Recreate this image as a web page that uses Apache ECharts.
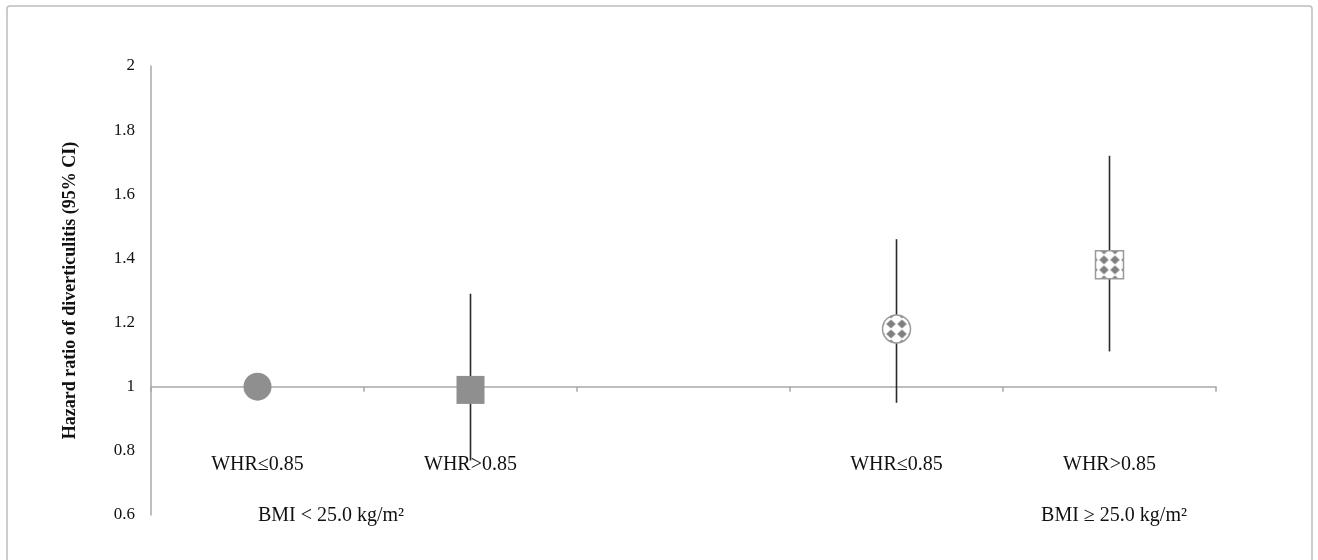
<!DOCTYPE html>
<html>
<head>
<meta charset="utf-8">
<script src="https://cdn.jsdelivr.net/npm/echarts@6/dist/echarts.min.js"></script>
<style>
html,body{margin:0;padding:0;background:#fff;}
#chart{width:1318px;height:560px;}
</style>
</head>
<body>
<div id="chart"></div>
<script>
// ---- data ----
const categories = ['WHR\u22640.85', 'WHR>0.85', '', 'WHR\u22640.85', 'WHR>0.85'];
const hazardRatio = [1.00, 0.99, null, 1.18, 1.38];
const ciLower = [null, 0.77, null, 0.95, 1.11];
const ciUpper = [null, 1.29, null, 1.46, 1.72];
const groupLabels = ['BMI < 25.0 kg/m\u00b2', 'BMI \u2265 25.0 kg/m\u00b2'];
const yMin = 0.6, yMax = 2, yInterval = 0.2, xCross = 1;
const yTitle = 'Hazard ratio of diverticulitis (95% CI)';

// ---- styles (not data) ----
const markerStyles = ['solidCircle', 'solidSquare', null, 'patternCircle', 'patternSquare'];

const FONT = '"Liberation Serif", "Times New Roman", serif';
const grid = { left: 151, right: 102, top: 66, bottom: 45 };
const gridH = 560 - grid.top - grid.bottom;
const axisOffset = -gridH * (xCross - yMin) / (yMax - yMin);

// diamond pattern tile
const tile = document.createElement('canvas');
tile.width = 11; tile.height = 10;
(function () {
  const c = tile.getContext('2d');
  c.fillStyle = '#ffffff'; c.fillRect(0, 0, 11, 10);
  c.fillStyle = '#808080';
  c.beginPath();
  c.moveTo(5.5, 0.6); c.lineTo(10.2, 5); c.lineTo(5.5, 9.4); c.lineTo(0.8, 5); c.closePath();
  c.fill();
})();
const pattern = { image: tile, repeat: 'repeat' };

const errData = [];
const markData = [];
categories.forEach((c, i) => {
  if (ciLower[i] != null && ciUpper[i] != null) errData.push([i, ciLower[i], ciUpper[i]]);
  if (hazardRatio[i] != null) markData.push([i, hazardRatio[i]]);
});

const chart = echarts.init(document.getElementById('chart'), null, { renderer: 'canvas' });
chart.setOption({
  animation: false,
  backgroundColor: '#fff',
  grid: grid,
  xAxis: {
    type: 'category',
    data: categories,
    boundaryGap: true,
    position: 'bottom',
    offset: axisOffset,
    axisLine: { show: true, lineStyle: { color: '#a8a8a8', width: 1.5 } },
    axisTick: { show: true, length: 5, lineStyle: { color: '#a8a8a8', width: 1.5 } },
    axisLabel: { margin: 68, fontFamily: FONT, fontSize: 20, color: '#111' },
    splitLine: { show: false }
  },
  yAxis: {
    type: 'value',
    min: yMin, max: yMax, interval: yInterval,
    name: yTitle,
    nameLocation: 'middle',
    nameGap: 72,
    nameTextStyle: { fontFamily: FONT, fontSize: 18, fontWeight: 'bold', color: '#111' },
    axisLine: { show: true, lineStyle: { color: '#a8a8a8', width: 1.5 } },
    axisTick: { show: false },
    axisLabel: { margin: 16, fontFamily: FONT, fontSize: 17, color: '#111' },
    splitLine: { show: false }
  },
  graphic: [
    { type: 'rect', z: -10, shape: { x: 7, y: 6, width: 1305, height: 600, r: 3 },
      style: { fill: 'none', stroke: '#bdbdbd', lineWidth: 1.5 } },
    { type: 'text', x: 331, y: 516, style: { text: groupLabels[0], font: '20px ' + FONT, fill: '#111', align: 'center', verticalAlign: 'middle' } },
    { type: 'text', x: 1114, y: 516, style: { text: groupLabels[1], font: '20px ' + FONT, fill: '#111', align: 'center', verticalAlign: 'middle' } }
  ],
  series: [
    {
      type: 'custom',
      z: 2,
      data: errData,
      encode: { x: 0, y: [1, 2] },
      renderItem: function (params, api) {
        const lo = api.coord([api.value(0), api.value(1)]);
        const hi = api.coord([api.value(0), api.value(2)]);
        return { type: 'line', shape: { x1: lo[0], y1: lo[1], x2: hi[0], y2: hi[1] },
          style: { stroke: '#2a2a2a', lineWidth: 1.6 } };
      }
    },
    {
      type: 'custom',
      z: 3,
      data: markData,
      encode: { x: 0, y: 1 },
      renderItem: function (params, api) {
        const idx = api.value(0);
        const p = api.coord([idx, api.value(1)]);
        const kind = markerStyles[idx];
        let child;
        const r = 14;
        if (kind === 'solidCircle') {
          child = { type: 'circle', shape: { cx: 0, cy: 0, r: r }, style: { fill: '#8f8f8f' } };
        } else if (kind === 'solidSquare') {
          child = { type: 'rect', shape: { x: -r, y: -r, width: 2 * r, height: 2 * r }, style: { fill: '#8f8f8f' } };
        } else if (kind === 'patternCircle') {
          child = { type: 'circle', shape: { cx: 0, cy: 0, r: r }, style: { fill: pattern, stroke: '#9a9a9a', lineWidth: 1.5 } };
        } else {
          child = { type: 'rect', shape: { x: -r, y: -r, width: 2 * r, height: 2 * r }, style: { fill: pattern, stroke: '#9a9a9a', lineWidth: 1.5 } };
        }
        return { type: 'group', x: p[0], y: p[1], children: [child] };
      }
    }
  ]
});
</script>
</body>
</html>
